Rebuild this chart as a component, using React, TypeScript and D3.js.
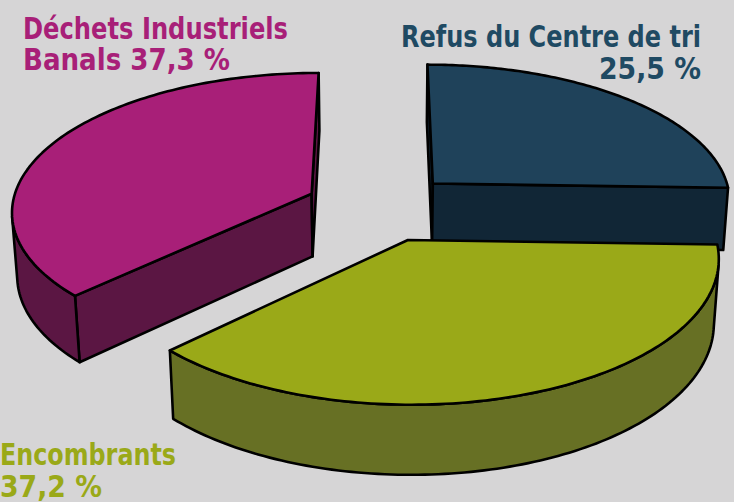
import React from 'react';
import * as d3 from 'd3';

// ---- data ----
const categories = ['Refus du Centre de tri', 'Encombrants', 'Déchets Industriels Banals'];
const values = [25.5, 37.2, 37.3];
const labelLines = [
  ['Refus du Centre de tri', '25,5 %'],
  ['Encombrants', '37,2 %'],
  ['Déchets Industriels', 'Banals 37,3 %'],
];
const topColors = ['#1f425a', '#9aa918', '#a81f78'];
const sideColors = ['#112636', '#677024', '#5b1643'];
const textColors = ['#1f4a63', '#9aa918', '#a81f78'];

// ---- layout ----
const W = 734;
const H = 502;
const phi = (27.3 * Math.PI) / 180;
const S = Math.sin(phi);
const C = Math.cos(phi);
const DIST = 7.726;
const FOC = 2318;
const CX = 380;
const CY = 207;
const THICK = 0.24;
const EXPLODE = 0.25;

function project(X: number, Y: number, Z: number): [number, number] {
  const yc = Y * C + Z * S;
  const zc = DIST + Z * C - Y * S;
  return [CX + (FOC * X) / zc, CY - (FOC * yc) / zc];
}

const camX = 0;
const camZ = -DIST * C;

type Face = { d: string; fill: string };

function pathOf(pts: [number, number][]) {
  const line = d3.line<[number, number]>().x((p) => p[0]).y((p) => p[1]);
  return line(pts) + 'Z';
}

const labelPos = [
  { ys: [47, 79], lens: [300, 102], xs: [401, 599] },
  { ys: [465, 497], lens: [176, 102], xs: [0, 0] },
  { ys: [39, 70], lens: [265, 207], xs: [23, 23] },
];

export default function App() {
  const arcs = d3.pie<number>().sort(null).value((d) => d)(values);

  const slices = arcs.map((a, i) => {
    const mid = (a.startAngle + a.endAngle) / 2;
    const ox = EXPLODE * Math.sin(mid);
    const oz = EXPLODE * Math.cos(mid);
    const pt = (t: number, r: number, Y: number) =>
      project(ox + r * Math.sin(t), Y, oz + r * Math.cos(t));
    const N = 120;
    const ts = d3.range(N + 1).map((k) => a.startAngle + ((a.endAngle - a.startAngle) * k) / N);
    const faces: Face[] = [];
    const a0 = a.startAngle;
    const a1 = a.endAngle;
    const vis0 = -Math.cos(a0) * (camX - ox) + Math.sin(a0) * (camZ - oz);
    const vis1 = Math.cos(a1) * (camX - ox) - Math.sin(a1) * (camZ - oz);
    const radial = (t: number) =>
      pathOf([pt(t, 0, 0), pt(t, 1, 0), pt(t, 1, -THICK), pt(t, 0, -THICK)]);
    if (vis0 > 0) faces.push({ d: radial(a0), fill: sideColors[i] });
    if (vis1 > 0) faces.push({ d: radial(a1), fill: sideColors[i] });
    let run: number[] = [];
    const flush = () => {
      if (run.length > 1) {
        const topPts = run.map((t) => pt(t, 1, 0));
        const botPts = run.slice().reverse().map((t) => pt(t, 1, -THICK));
        faces.push({ d: pathOf([...topPts, ...botPts]), fill: sideColors[i] });
      }
      run = [];
    };
    for (let k = 0; k < N; k++) {
      const tm = (ts[k] + ts[k + 1]) / 2;
      const px = ox + Math.sin(tm);
      const pz = oz + Math.cos(tm);
      const v = Math.sin(tm) * (camX - px) + Math.cos(tm) * (camZ - pz);
      if (v > 0) {
        if (run.length === 0) run.push(ts[k]);
        run.push(ts[k + 1]);
      } else flush();
    }
    flush();
    const top = pathOf([pt(0, 0, 0), ...ts.map((t) => pt(t, 1, 0))]);
    return { i, faces, top, depth: oz };
  });

  const order = slices.slice().sort((p, q) => q.depth - p.depth);

  return (
    <svg
      width={W}
      height={H}
      style={{ position: 'absolute', left: 0, top: 0, background: '#d6d5d6' }}
    >
      <rect x={0} y={0} width={W} height={H} fill="#d6d5d6" />
      {order.map((s) => (
        <g key={categories[s.i]}>
          {s.faces.map((f, k) => (
            <path key={k} d={f.d} fill={f.fill} stroke="#000" strokeWidth={2.6} strokeLinejoin="round" />
          ))}
          <path d={s.top} fill={topColors[s.i]} stroke="#000" strokeWidth={2.6} strokeLinejoin="round" />
        </g>
      ))}
      {labelLines.map((lines, i) =>
        lines.map((ln, j) => (
          <text
            key={i + '-' + j}
            x={labelPos[i].xs[j]}
            y={labelPos[i].ys[j]}
            textLength={labelPos[i].lens[j]}
            lengthAdjust="spacingAndGlyphs"
            fill={textColors[i]}
            fontFamily="'DejaVu Sans Condensed', 'DejaVu Sans', sans-serif"
            fontStretch="condensed"
            fontWeight="bold"
            fontSize={31}
          >
            {ln}
          </text>
        ))
      )}
    </svg>
  );
}
